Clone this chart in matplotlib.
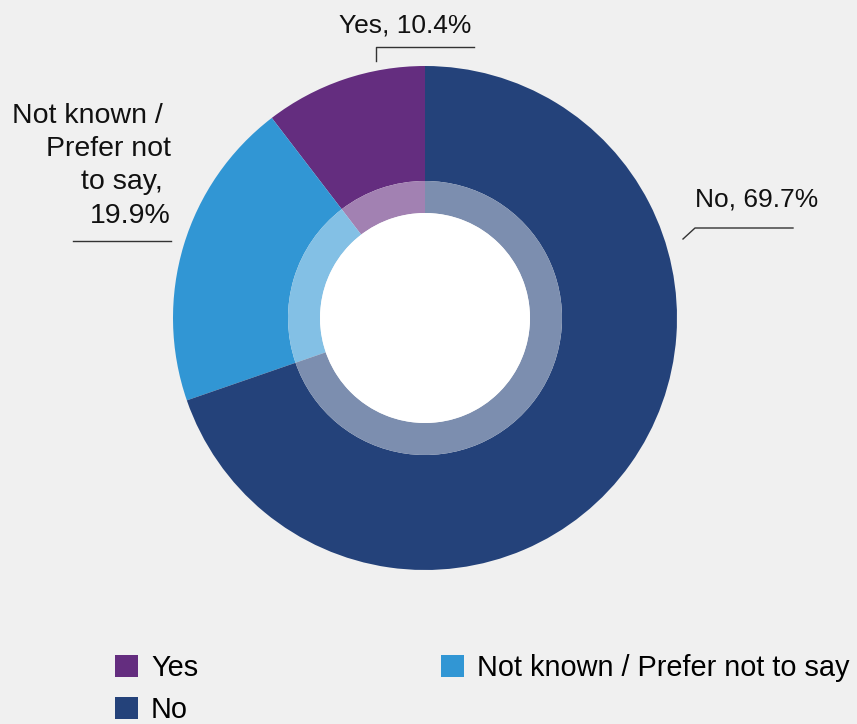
import matplotlib.pyplot as plt
from matplotlib.patches import Patch, Circle
from matplotlib.colors import to_rgb

# Chart data
categories = ['Yes', 'Not known / Prefer not to say', 'No']
shares = [10.4, 19.9, 69.7]
slice_colors = ['#642d7f', '#3196d4', '#24427a']
label_names = ['Yes', 'Not known / \nPrefer not\nto say', 'No']

plt.rcParams['font.family'] = ['Liberation Sans', 'DejaVu Sans']
bg = '#f0f0f0'

fig = plt.figure(figsize=(8.57, 7.24), dpi=100, facecolor=bg)
ax = fig.add_axes([0, 0, 1, 1])
ax.set_facecolor(bg)

# Outer ring
ax.pie(shares, radius=252, startangle=90, counterclock=True, colors=slice_colors,
       wedgeprops=dict(width=252 - 137, linewidth=0))

# Lighter inner ring (colours washed with white)
light = [tuple(0.6 * c + 0.4 for c in to_rgb(col)) for col in slice_colors]
ax.pie(shares, radius=137, startangle=90, counterclock=True, colors=light,
       wedgeprops=dict(width=137 - 105, linewidth=0))
ax.add_patch(Circle((0, 0), 105, color='white', linewidth=0))

# Labels with leader lines
labels = [f'{n}, {v}%' for n, v in zip(label_names, shares)]
labels[1] = f'{label_names[1]}, \n{shares[1]}%'

ax.text(-20, 286, labels[0], ha='center', va='baseline', fontsize=19, color='#111111')
ax.plot([-49, -49, 49], [257, 271, 271], color='#333333', lw=1)

ax.text(-254, 215, labels[1], ha='right', va='top', multialignment='right',
        fontsize=20.5, linespacing=1.36, color='#111111')
ax.plot([-352, -254], [77, 77], color='#333333', lw=1)

ax.text(270, 111, labels[2], ha='left', va='baseline', fontsize=19, color='#111111')
ax.plot([258, 270, 368], [79, 90, 90], color='#333333', lw=1)

ax.set_xlim(-425, 857 - 425)
ax.set_ylim(-(724 - 318), 318)
ax.set_aspect('equal')
ax.axis('off')

# Legend: Yes, No in first column, Not known in second
order = [0, 2, 1]
handles = [Patch(facecolor=slice_colors[i], edgecolor='none') for i in order]
names = [categories[i] for i in order]
fig.legend(handles, names, ncol=2, loc='upper left',
           bbox_to_anchor=(115 / 857, 1 - 654 / 724), frameon=False,
           fontsize=20.8, handlelength=0.8, handleheight=0.8,
           handletextpad=0.45, labelspacing=0.5, columnspacing=8.4,
           borderpad=0, borderaxespad=0)

fig.savefig('out.png', dpi=100, facecolor=bg)
